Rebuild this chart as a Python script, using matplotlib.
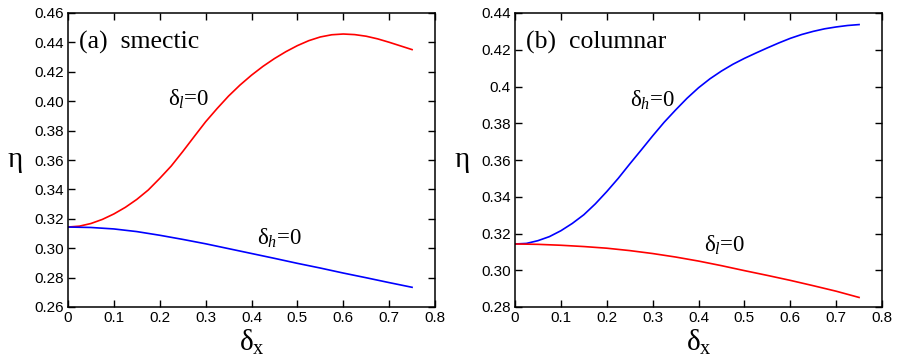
import matplotlib
matplotlib.use("Agg")
import matplotlib.pyplot as plt

# Data
dx_fine = [0.0, 0.025, 0.05, 0.075, 0.10, 0.125, 0.15, 0.175, 0.20, 0.225, 0.25, 0.275, 0.30,
           0.325, 0.35, 0.375, 0.40, 0.425, 0.45, 0.475, 0.50, 0.525, 0.55, 0.575, 0.60,
           0.625, 0.65, 0.675, 0.70, 0.725, 0.75]
dx_coarse = [0.0, 0.05, 0.10, 0.15, 0.20, 0.25, 0.30, 0.35, 0.40, 0.45, 0.50, 0.55, 0.60,
             0.65, 0.70, 0.75]

# (a) smectic
smectic_l0 = [0.3144, 0.3150, 0.3168, 0.3196, 0.3233, 0.3278, 0.3332, 0.3396, 0.3475, 0.3559,
              0.3657, 0.3759, 0.3860, 0.3950, 0.4035, 0.4110, 0.4177, 0.4237, 0.4290, 0.4337,
              0.4378, 0.4412, 0.4437, 0.4452, 0.4457, 0.4453, 0.4442, 0.4424, 0.4401, 0.4376,
              0.4351]
smectic_h0 = [0.3144, 0.3141, 0.3131, 0.3113, 0.3088, 0.3060, 0.3030, 0.2997, 0.2964, 0.2931,
              0.2897, 0.2865, 0.2831, 0.2799, 0.2766, 0.2734]

# (b) columnar
columnar_h0 = [0.3143, 0.3146, 0.3161, 0.3183, 0.3215, 0.3255, 0.3302, 0.3361, 0.3428, 0.3500,
               0.3578, 0.3654, 0.3731, 0.3805, 0.3872, 0.3936, 0.3993, 0.4042, 0.4084, 0.4121,
               0.4153, 0.4182, 0.4210, 0.4237, 0.4262, 0.4283, 0.4300, 0.4314, 0.4324, 0.4332,
               0.4337]
columnar_l0 = [0.3143, 0.3141, 0.3136, 0.3129, 0.3120, 0.3107, 0.3091, 0.3072, 0.3050, 0.3025,
               0.2998, 0.2972, 0.2945, 0.2916, 0.2886, 0.2852]

x_ticks = [0, 0.1, 0.2, 0.3, 0.4, 0.5, 0.6, 0.7, 0.8]
x_ticklabels = ["0", "0.1", "0.2", "0.3", "0.4", "0.5", "0.6", "0.7", "0.8"]
a_yticks = [0.26, 0.28, 0.30, 0.32, 0.34, 0.36, 0.38, 0.40, 0.42, 0.44, 0.46]
a_yticklabels = ["0.26", "0.28", "0.30", "0.32", "0.34", "0.36", "0.38", "0.40", "0.42", "0.44", "0.46"]
b_yticks = [0.28, 0.30, 0.32, 0.34, 0.36, 0.38, 0.40, 0.42, 0.44]
b_yticklabels = ["0.28", "0.30", "0.32", "0.34", "0.36", "0.38", "0.4", "0.42", "0.44"]

plt.rcParams['font.family'] = ['Liberation Sans', 'DejaVu Sans']
plt.rcParams['mathtext.fontset'] = 'custom'
plt.rcParams['mathtext.rm'] = 'Liberation Serif'
plt.rcParams['mathtext.it'] = 'Liberation Serif:italic'

fig = plt.figure(figsize=(9, 3.59), dpi=100)
W, H = 900, 359
ax1 = fig.add_axes([68 / W, 1 - 307 / H, 367 / W, 294 / H])
ax2 = fig.add_axes([515 / W, 1 - 307 / H, 367 / W, 294 / H])

serif = ['Liberation Serif', 'DejaVu Serif']

def style(ax, yt, ytl, ylim):
    ax.set_xlim(0, 0.8)
    ax.set_ylim(*ylim)
    ax.set_xticks(x_ticks)
    ax.set_xticklabels(x_ticklabels)
    ax.set_yticks(yt)
    ax.set_yticklabels(ytl)
    ax.tick_params(direction='in', top=True, right=True, length=5, width=1, labelsize=11, pad=3)
    for s in ax.spines.values():
        s.set_linewidth(1.1)
    ax.set_xlabel('δ$_{\\mathrm{x}}$', fontsize=21, family=serif, labelpad=2)
    ax.set_ylabel('η', fontsize=21, family=serif, rotation=0, labelpad=14, va='center')

ax1.plot(dx_fine, smectic_l0, color='#ff0000', lw=1.2)
ax1.plot(dx_coarse, smectic_h0, color='#0000ff', lw=1.2)
style(ax1, a_yticks, a_yticklabels, (0.26, 0.46))
ax1.text(0.03, 0.90, '(a)  smectic', transform=ax1.transAxes, fontsize=18.5, family=serif, va='center')
ax1.text(0.218, 0.401, 'δ$_{\\mathit{l}}$=0', fontsize=16.5, family=serif, va='center')
ax1.text(0.413, 0.307, 'δ$_{\\mathit{h}}$=0', fontsize=16.5, family=serif, va='center')

ax2.plot(dx_fine, columnar_h0, color='#0000ff', lw=1.2)
ax2.plot(dx_coarse, columnar_l0, color='#ff0000', lw=1.2)
style(ax2, b_yticks, b_yticklabels, (0.28, 0.44))
ax2.text(0.03, 0.90, '(b)  columnar', transform=ax2.transAxes, fontsize=18.5, family=serif, va='center')
ax2.text(0.250, 0.3927, 'δ$_{\\mathit{h}}$=0', fontsize=16.5, family=serif, va='center')
ax2.text(0.413, 0.3137, 'δ$_{\\mathit{l}}$=0', fontsize=16.5, family=serif, va='center')

fig.savefig('out.png', dpi=100)
